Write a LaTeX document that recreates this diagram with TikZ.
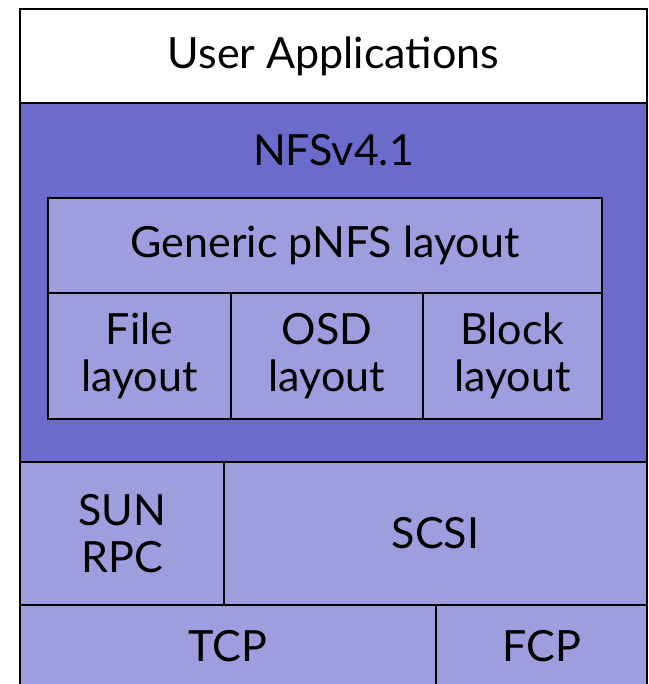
\documentclass[tikz,border=0pt]{standalone}
\usepackage{fontspec}
\setmainfont{Lato}
\usepackage{xcolor}
\usepackage{tikz}
\usetikzlibrary{positioning}

\definecolor{nfsdark}{RGB}{107,107,204}
\definecolor{nfslight}{RGB}{158,158,222}

\begin{document}
\begin{tikzpicture}[
    x=1pt, y=-1pt,
    every node/.style={font=\fontsize{43}{47}\selectfont, align=center, inner sep=0pt},
    layer/.style={draw=black, line width=2pt, fill=nfslight, outer sep=0pt, minimum height=#1},
    layer/.default=95pt,
  ]
    \useasboundingbox (0,0) rectangle (648,684);
    \clip (0,0) rectangle (648,684);
    % top layer
    \node[layer=94pt, fill=white, minimum width=627pt] (user) at (333.5,56) {User Applications};
    % NFS block
    \node[layer=359pt, fill=nfsdark, minimum width=627pt] (nfs) at (333.5,282.5) {};
    \node (nfslabel) at (333.5,150) {NFSv4.1};
    \node[layer=95pt, minimum width=554pt] (generic) at (325,245.5) {Generic pNFS layout};
    \node[layer=126pt, minimum width=183pt] (file) at (139.5,356) {File\\layout};
    \node[layer=126pt, minimum width=192pt, right=0pt of file] (osd) {OSD\\layout};
    \node[layer=126pt, minimum width=179pt, right=0pt of osd] (block) {Block\\layout};
    % transport
    \node[layer=143pt, minimum width=204pt] (sunrpc) at (122,533.5) {SUN\\RPC};
    \node[layer=143pt, minimum width=423pt, right=0pt of sunrpc] (scsi) {SCSI};
    \node[layer=83pt, minimum width=416pt] (tcp) at (228,646.5) {TCP};
    \node[layer=83pt, minimum width=211pt, right=0pt of tcp] (fcp) {FCP};
  \end{tikzpicture}
\end{document}
